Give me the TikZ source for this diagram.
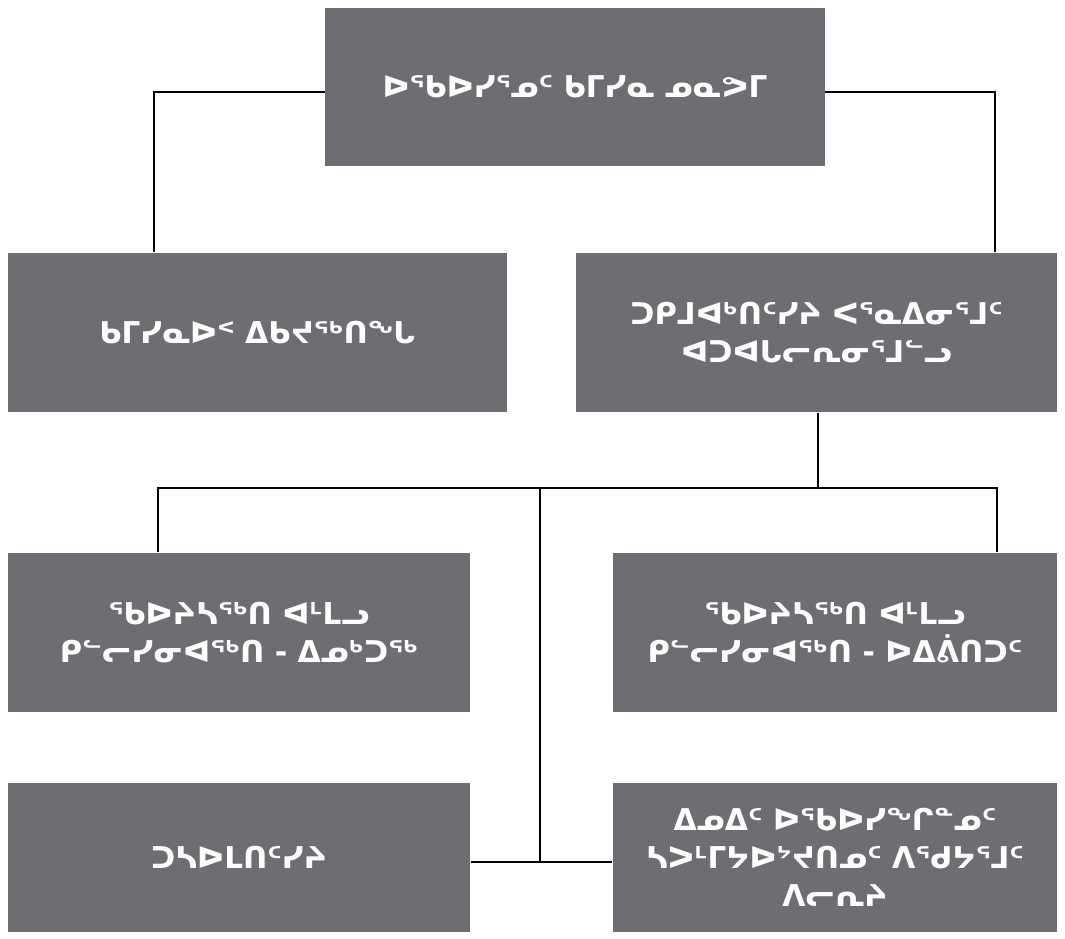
\documentclass[tikz,border=0pt]{standalone}
\usepackage{fontspec}
\setmainfont{DejaVu Sans}
\usepackage{xcolor}
\usetikzlibrary{positioning}
\definecolor{boxgray}{HTML}{6D6E71}

\begin{document}
\begin{tikzpicture}[x=1pt,y=-1pt,-,line width=1.2pt,
                    unit/.style={rectangle,fill=boxgray,text=white,align=center,inner sep=0pt,
                                 font=\bfseries\fontsize{30}{38}\selectfont}]

  \useasboundingbox (0,0) rectangle (1065,939);

  \node[unit,minimum width=500pt,minimum height=158pt] (comm) at (575,87) {ᐅᖃᐅᓯᕐᓄᑦ ᑲᒥᓯᓇ ᓄᓇᕗᒥ};
  \node[unit,minimum width=499pt,minimum height=159pt] (asst) at (257.5,332.5) {ᑲᒥᓯᓇᐅᑉ ᐃᑲᔪᖅᑎᖓ};
  \node[unit,minimum width=481pt,minimum height=159pt] (transl) at (816.5,332.5) {ᑐᑭᒧᐊᒃᑎᑦᓯᔨ ᐸᕐᓇᐃᓂᕐᒧᑦ\\ᐊᑐᐊᒐᓕᕆᓂᕐᒧᓪᓗ};
  \node[unit,minimum width=462pt,minimum height=159pt] (resiu) at (239,632.5) {ᖃᐅᔨᓴᖅᑎ ᐊᒻᒪᓗ\\ᑭᓪᓕᓯᓂᐊᖅᑎ - ᐃᓄᒃᑐᖅ};
  \node[unit,minimum width=444pt,minimum height=159pt] (resfr) at (835,632.5) {ᖃᐅᔨᓴᖅᑎ ᐊᒻᒪᓗ\\ᑭᓪᓕᓯᓂᐊᖅᑎ - ᐅᐃᕖᑎᑐᑦ};
  \node[unit,minimum width=462pt,minimum height=149pt] (media) at (239,857.5) {ᑐᓴᐅᒪᑎᑦᓯᔨ};
  \node[unit,minimum width=444pt,minimum height=149pt] (enf) at (835,857.5) {ᐃᓄᐃᑦ ᐅᖃᐅᓯᖏᓐᓄᑦ\\ᓴᐳᒻᒥᔭᐅᔾᔪᑎᓄᑦ ᐱᖁᔭᕐᒧᑦ\\ᐱᓕᕆᔨ};

  % bends and junctions
  \coordinate (cl) at (325,92);
  \coordinate (cr) at (825,92);
  \coordinate (jl) at (158,488);
  \coordinate (jr) at (997,488);
  \coordinate (jm) at (540,488);
  \coordinate (jb) at (540,862);

  \draw (cl) -| (asst.north -| 154,0);
  \draw (cr) -| (transl.north -| 995,0);
  \draw (transl.south -| 818,0) -- (jm -| 818,0);
  \draw (resiu.north -| jl) -- (jl) -- (jr) -- (resfr.north -| jr);
  \draw (jm) -- (jb);
  \draw (media.east |- jb) -- (enf.west |- jb);

\end{tikzpicture}
\end{document}
